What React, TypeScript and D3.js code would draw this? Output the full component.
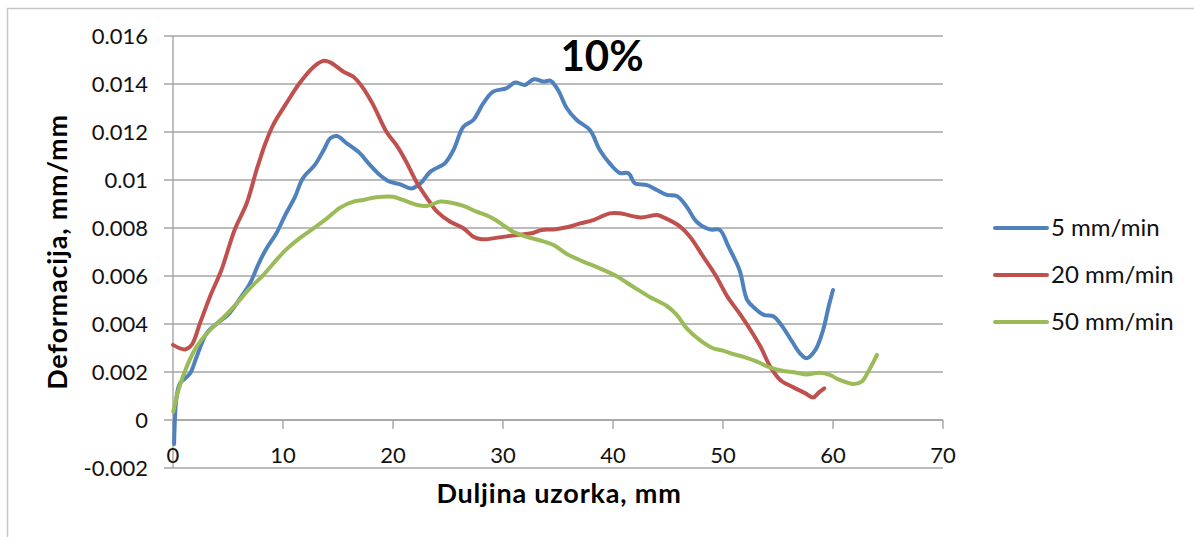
import React from "react";
import * as d3 from "d3";

const yTickValues = [-0.002, 0, 0.002, 0.004, 0.006, 0.008, 0.01, 0.012, 0.014, 0.016];
const yTickLabels = ["-0.002", "0", "0.002", "0.004", "0.006", "0.008", "0.01", "0.012", "0.014", "0.016"];
const xTickValues = [0, 10, 20, 30, 40, 50, 60, 70];
const seriesNames = ["5 mm/min", "20 mm/min", "50 mm/min"];
const seriesColors = ["#4F81BD", "#C0504D", "#9BBB59"];

const blueData: [number, number][] = [
  [0.1, -0.001], [0.33, 0.00097], [0.64, 0.00153], [1.55, 0.00194], [2.15, 0.00264], [3.06, 0.00361],
  [4.1, 0.00406], [5.0, 0.00438], [6.1, 0.00507], [7.0, 0.00569], [7.8, 0.00653], [8.5, 0.00715],
  [9.4, 0.00778], [10.2, 0.00854], [11.1, 0.00931], [11.8, 0.01007], [12.9, 0.01063], [13.7, 0.01125],
  [14.3, 0.01174], [14.9, 0.01183], [15.8, 0.01153], [17.0, 0.01111], [17.9, 0.01063], [18.8, 0.01021],
  [19.7, 0.00993], [20.6, 0.00983], [21.7, 0.00965], [22.5, 0.00986], [23.4, 0.01035], [24.7, 0.01069],
  [25.5, 0.01125], [26.4, 0.01222], [27.3, 0.0125], [28.2, 0.01319], [29.1, 0.01368], [30.3, 0.01382],
  [31.1, 0.01406], [32.0, 0.01396], [32.8, 0.0142], [33.7, 0.0141], [34.3, 0.01414], [35.0, 0.01375],
  [35.8, 0.01299], [36.7, 0.0125], [37.9, 0.01208], [38.8, 0.01125], [39.7, 0.01069], [40.6, 0.0103],
  [41.4, 0.01028], [42.0, 0.00986], [43.1, 0.00979], [44.0, 0.00958], [44.9, 0.00938], [45.8, 0.00933],
  [46.7, 0.00889], [47.6, 0.00826], [48.8, 0.00794], [49.7, 0.00792], [50.5, 0.00722], [51.5, 0.00625],
  [52.2, 0.005], [52.9, 0.00465], [53.7, 0.00438], [54.6, 0.00431], [55.3, 0.00396], [56.2, 0.00333],
  [57.0, 0.00278], [57.6, 0.00257], [58.4, 0.00292], [59.1, 0.00375], [59.6, 0.00472], [60.0, 0.00542],
];

const redData: [number, number][] = [
  [0, 0.00313], [1.1, 0.00294], [1.7, 0.00313], [2.45, 0.00403], [3.36, 0.00514], [4.4, 0.00625],
  [5.6, 0.00792], [6.7, 0.00903], [7.6, 0.01042], [8.4, 0.01153], [9.1, 0.01229], [10.3, 0.01319],
  [11.5, 0.01403], [12.8, 0.01472], [13.7, 0.01497], [14.3, 0.0149], [15.5, 0.01451], [16.4, 0.0143],
  [17.3, 0.01382], [18.2, 0.01313], [19.4, 0.01201], [20.3, 0.01146], [21.2, 0.01076], [22.2, 0.00986],
  [23.2, 0.00917], [24.0, 0.00868], [25.2, 0.00826], [26.4, 0.00799], [27.3, 0.00764], [28.1, 0.00753],
  [29.7, 0.00761], [31.2, 0.00771], [32.6, 0.00778], [33.5, 0.00792], [34.6, 0.00794], [35.8, 0.00803],
  [37.0, 0.00819], [38.2, 0.00833], [39.7, 0.00861], [40.6, 0.00861], [42.5, 0.00844], [44.0, 0.00854],
  [44.6, 0.00844], [46.1, 0.00806], [47.0, 0.00764], [48.2, 0.00681], [49.4, 0.00597], [50.4, 0.00514],
  [51.5, 0.00444], [52.5, 0.00375], [53.4, 0.00306], [54.3, 0.00222], [55.2, 0.00167], [56.4, 0.00136],
  [57.5, 0.00111], [58.2, 0.00094], [58.7, 0.00114], [59.2, 0.00132],
];

const greenData: [number, number][] = [
  [0.03, 0.00035], [0.5, 0.00125], [1.24, 0.00222], [2.15, 0.00306], [3.36, 0.00375], [4.6, 0.00428],
  [5.8, 0.00486], [7.0, 0.00549], [8.2, 0.00604], [9.4, 0.00667], [10.3, 0.00711], [11.5, 0.00757],
  [12.8, 0.00799], [14.0, 0.0084], [15.2, 0.00885], [16.4, 0.0091], [17.3, 0.00917], [18.5, 0.00928],
  [20.0, 0.0093], [20.9, 0.00917], [22.2, 0.00896], [23.1, 0.00892], [24.3, 0.0091], [25.2, 0.00906],
  [26.4, 0.00892], [27.6, 0.00868], [28.8, 0.00847], [29.7, 0.00822], [30.9, 0.00785], [32.1, 0.00764],
  [33.4, 0.00748], [34.6, 0.00729], [35.8, 0.00692], [37.3, 0.0066], [38.8, 0.00632], [40.3, 0.006],
  [41.8, 0.00556], [43.3, 0.00514], [44.9, 0.00475], [45.8, 0.00438], [46.7, 0.00382], [47.9, 0.00333],
  [49.1, 0.00299], [50.0, 0.00289], [50.9, 0.00275], [51.8, 0.00264], [53.1, 0.00243], [54.3, 0.00218],
  [55.5, 0.00204], [56.7, 0.00197], [57.6, 0.0019], [58.8, 0.00197], [59.7, 0.00188], [60.6, 0.00167],
  [61.9, 0.0015], [62.6, 0.0016], [63.2, 0.00201], [64.0, 0.00271],
];

const allSeries = [blueData, redData, greenData];

const FONT = "Lato, 'Open Sans', sans-serif";

export default function App() {
  const W = 1194, H = 537;
  const x = d3.scaleLinear().domain([0, 70]).range([173, 943]);
  const y = d3.scaleLinear().domain([-0.002, 0.016]).range([468, 36]);
  const line = d3
    .line<[number, number]>()
    .x((d) => x(d[0]))
    .y((d) => y(d[1]))
    .curve(d3.curveCatmullRom.alpha(0.5));

  const gridColor = "#A5A5A5";
  const textColor = "#111";

  return (
    <div style={{ position: "absolute", left: 0, top: 0 }}>
      <svg width={W} height={H} style={{ display: "block", background: "#fff" }}>
        <rect x={7.5} y={8.5} width={1250} height={700} fill="#fff" stroke="#C8C8C8" strokeWidth={1.5} />
        {/* gridlines */}
        {yTickValues.map((v, i) => (
          <line key={"g" + i} x1={x(0) - 9} x2={x(70)} y1={y(v)} y2={y(v)} stroke={gridColor} strokeWidth={1.4} />
        ))}
        {/* y axis */}
        <line x1={x(0)} x2={x(0)} y1={y(-0.002)} y2={y(0.016)} stroke={gridColor} strokeWidth={1.4} />
        {/* x axis at 0 */}
        <line x1={x(0)} x2={x(70)} y1={y(0)} y2={y(0)} stroke={gridColor} strokeWidth={1.4} />
        {xTickValues.map((v) => (
          <line key={"xt" + v} x1={x(v)} x2={x(v)} y1={y(0)} y2={y(0) + 9} stroke={gridColor} strokeWidth={1.4} />
        ))}
        {/* y tick labels */}
        {yTickValues.map((v, i) => (
          <text key={"yl" + i} x={148} y={y(v)} dy="0.35em" textAnchor="end" fontFamily={FONT} fontSize={22} fill={textColor}>
            {yTickLabels[i]}
          </text>
        ))}
        {/* x tick labels */}
        {xTickValues.map((v) => (
          <text key={"xl" + v} x={x(v)} y={455} dy="0.35em" textAnchor="middle" fontFamily={FONT} fontSize={22} fill={textColor}>
            {v}
          </text>
        ))}
        {/* series */}
        {allSeries.map((s, i) => (
          <path key={"s" + i} d={line(s) || ""} fill="none" stroke={seriesColors[i]} strokeWidth={4} strokeLinejoin="round" strokeLinecap="round" />
        ))}
        {/* title */}
        <text x={602} y={71} textAnchor="middle" fontFamily={FONT} fontWeight="bold" fontSize={42} fill="#000">
          10%
        </text>
        {/* axis titles */}
        <text x={559} y={503} textAnchor="middle" fontFamily={FONT} fontWeight="bold" fontSize={27} letterSpacing={0.8} fill="#000">
          Duljina uzorka, mm
        </text>
        <text transform={`translate(67,252) rotate(-90)`} textAnchor="middle" fontFamily={FONT} fontWeight="bold" fontSize={27} letterSpacing={0.8} fill="#000">
          Deformacija, mm/mm
        </text>
        {/* legend */}
        {seriesNames.map((n, i) => (
          <g key={"lg" + i}>
            <line x1={995} x2={1047} y1={228 + i * 47} y2={228 + i * 47} stroke={seriesColors[i]} strokeWidth={4} strokeLinecap="round" />
            <text x={1051} y={228 + i * 47} dy="0.35em" fontFamily={FONT} fontSize={24} fill={textColor}>
              {n}
            </text>
          </g>
        ))}
      </svg>
    </div>
  );
}
